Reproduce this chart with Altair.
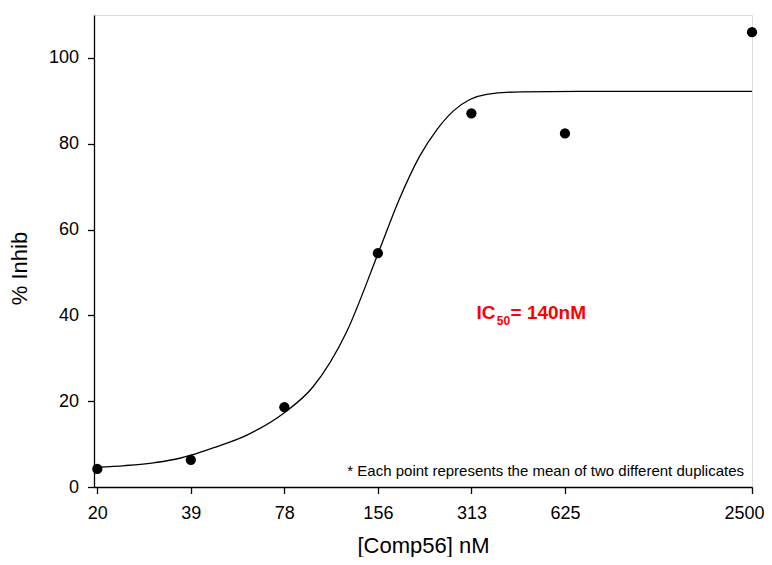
import altair as alt
import pandas as pd

# Measured concentrations (nM) and tick labels
conc = [19.53125, 39.0625, 78.125, 156.25, 312.5, 625, 2500]
tick_labels = ["20", "39", "78", "156", "313", "625", "2500"]
# Mean % inhibition at each concentration
inhib = [4.2, 6.3, 18.6, 54.5, 87.1, 82.4, 106.0]

# Fitted curve
curve_x = [19.53, 24.0, 30.0, 36.0, 39.06, 46.0, 59.2, 78.1, 96.5, 124, 156.25, 183, 213, 242, 273, 309, 350, 450, 700, 1200, 2500]
curve_y = [4.6, 5.0, 5.7, 6.7, 7.4, 9.1, 12.1, 17.3, 23.3, 36.2, 54.3, 67.0, 77.1, 83.3, 87.6, 90.3, 91.5, 92.1, 92.2, 92.2, 92.2]

# Annotation texts
ic_parts = ["IC", "50", "= 140nM"]
ic_x = [324.6, 377.0, 417.6]
ic_y = [39.2, 37.8, 39.2]
note_text = ["* Each point represents the mean of two different duplicates"]

FONT = "Liberation Sans"

points = pd.DataFrame({"conc": conc, "inhib": inhib})
curve = pd.DataFrame({"conc": curve_x, "inhib": curve_y})

label_expr = f"{tick_labels}[indexof({conc}, datum.value)]"

xscale = alt.Scale(type="log", domain=[19.06, 2500], nice=False)
yscale = alt.Scale(domain=[0, 110], nice=False, zero=False)

xenc = alt.X(
    "conc:Q",
    scale=xscale,
    axis=alt.Axis(
        values=conc,
        labelExpr=label_expr,
        title="[Comp56] nM",
        grid=False,
        domainColor="black",
        domainWidth=1.3,
        tickColor="black",
        tickWidth=1.3,
        tickSize=6.5,
        labelFont=FONT,
        labelFontSize=18,
        labelColor="black",
        labelPadding=11,
        labelFlush=False,
        labelOverlap=False,
        labelOffset={"condition": {"test": "datum.value >= 2500", "value": -8}, "value": 0},
        titleFont=FONT,
        titleFontSize=22,
        titleFontWeight="normal",
        titleColor="black",
        titleX=329,
        titleY=65,
        titleAlign="center",
        titleBaseline="alphabetic",
    ),
)
yenc = alt.Y(
    "inhib:Q",
    scale=yscale,
    axis=alt.Axis(
        values=[0, 20, 40, 60, 80, 100],
        title="% Inhib",
        grid=False,
        domainColor="black",
        domainWidth=1.3,
        tickColor="black",
        tickWidth=1.3,
        tickSize=6.5,
        labelFont=FONT,
        labelFontSize=18,
        labelColor="black",
        labelPadding=9,
        labelFlush=False,
        titleFont=FONT,
        titleFontSize=22,
        titleFontWeight="normal",
        titleColor="black",
        titleAngle=270,
        titleX=-75,
        titleY=253,
        titleAlign="center",
        titleBaseline="middle",
    ),
)

line = alt.Chart(curve).mark_line(
    color="black", strokeWidth=1.3, interpolate="monotone", clip=False
).encode(x=xenc, y=yenc)

dots = alt.Chart(points).mark_point(
    filled=True, color="black", size=105, opacity=1, shape="circle"
).encode(x="conc:Q", y="inhib:Q")

ic_df = pd.DataFrame({"conc": ic_x, "inhib": ic_y, "t": ic_parts, "fs": [19, 12, 19]})
ic_text = alt.Chart(ic_df).mark_text(
    align="left", baseline="alphabetic", font=FONT, fontWeight="bold", color="#ff0000"
).encode(
    x="conc:Q",
    y="inhib:Q",
    text="t:N",
    size=alt.Size("fs:Q", scale=None, legend=None),
)

note_df = pd.DataFrame({"conc": [2500], "inhib": [2.6], "t": note_text})
note = alt.Chart(note_df).mark_text(
    align="right", baseline="alphabetic", font=FONT, fontSize=15, color="black", dx=-8
).encode(x="conc:Q", y="inhib:Q", text="t:N")

chart = alt.layer(line, dots, ic_text, note).properties(
    width=658,
    height=472,
    autosize=alt.AutoSizeParams(type="none"),
    padding={"left": 86, "top": 7, "right": 12, "bottom": 70},
).configure_view(stroke=None).configure(background="white")

chart.save("out.html", embed_options={"renderer": "svg", "actions": False})
